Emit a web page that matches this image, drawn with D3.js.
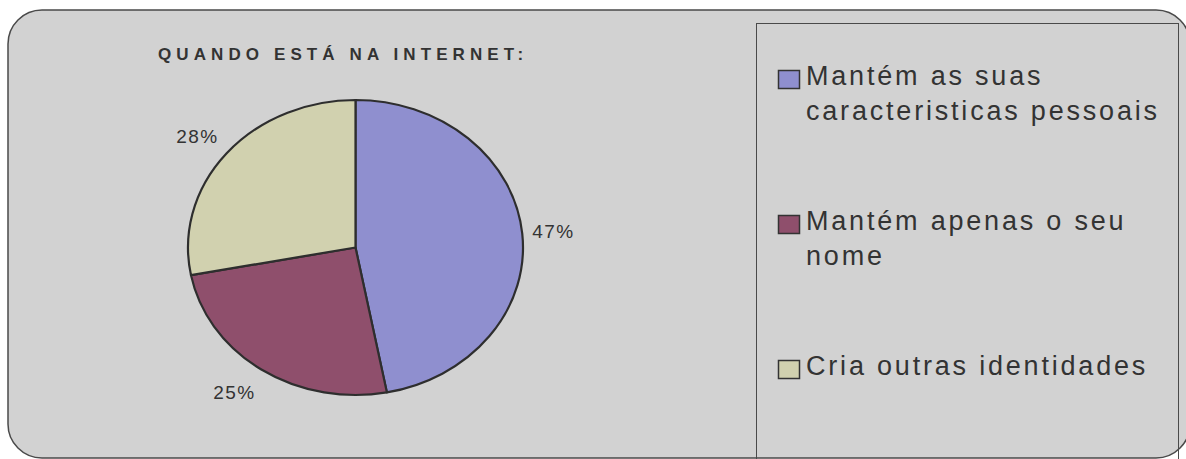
<!DOCTYPE html>
<html>
<head>
<meta charset="utf-8">
<script src="https://cdn.jsdelivr.net/npm/d3@7"></script>
<style>
  html, body { margin: 0; padding: 0; background: #ffffff; }
  svg { display: block; font-family: "Liberation Sans", Arial, sans-serif; }
</style>
</head>
<body>
<svg id="chart" width="1186" height="459"></svg>
<script>
// Respostas: identidade usada na internet
const title = "QUANDO ESTÁ NA INTERNET:";
const categories = [
  "Mantém as suas caracteristicas pessoais",
  "Mantém apenas o seu nome",
  "Cria outras identidades"
];
const legendLines = [
  ["Mantém as suas", "caracteristicas pessoais"],
  ["Mantém apenas o seu", "nome"],
  ["Cria outras identidades"]
];
const values = [47, 25, 28];
const colors = ["#8f8fcf", "#8f4f6c", "#d1d1af"];

const svg = d3.select("#chart");

// outer rounded frame (its right edge runs just past the page)
svg.append("rect")
  .attr("x", 8).attr("y", 10)
  .attr("width", 1182).attr("height", 448)
  .attr("rx", 34).attr("ry", 34)
  .attr("fill", "#d2d2d2")
  .attr("stroke", "#4a4a4a")
  .attr("stroke-width", 1.5);

// title
svg.append("text")
  .attr("x", 158).attr("y", 59.5)
  .attr("fill", "#333333")
  .attr("font-size", 17)
  .attr("font-weight", "bold")
  .attr("letter-spacing", 5.1)
  .text(title);

// pie (elliptical)
const cx = 355.5, cy = 247.5, rx = 167.5, ry = 147.5;
const color = d3.scaleOrdinal().domain(categories).range(colors);
const pie = d3.pie().sort(null).value(d => d.value);
const data = categories.map((c, i) => ({ name: c, value: values[i] }));
const arcs = pie(data);
const arc = d3.arc().innerRadius(0).outerRadius(ry);

const g = svg.append("g")
  .attr("transform", `translate(${cx},${cy}) scale(${rx / ry},1)`);

g.selectAll("path")
  .data(arcs)
  .join("path")
  .attr("d", arc)
  .attr("fill", d => color(d.data.name))
  .attr("stroke", "#2e2e2e")
  .attr("stroke-width", 2.2)
  .attr("stroke-linejoin", "round")
  .attr("vector-effect", "non-scaling-stroke");

// percentage labels just outside the ellipse
const pct = d3.format(".0%");
const total = d3.sum(values);
const mid = d => (d.startAngle + d.endAngle) / 2;
svg.selectAll("text.pct")
  .data(arcs)
  .join("text")
  .attr("class", "pct")
  .attr("x", d => cx + (rx + 10) * Math.sin(mid(d)))
  .attr("y", d => cy - (ry + 27) * Math.cos(mid(d)))
  .attr("dy", "0.36em")
  .attr("text-anchor", d => Math.sin(mid(d)) >= 0 ? "start" : "end")
  .attr("fill", "#333333")
  .attr("font-size", 19)
  .attr("letter-spacing", 1.5)
  .text(d => pct(d.data.value / total));

// legend box
svg.append("rect")
  .attr("x", 756.5).attr("y", 23.5)
  .attr("width", 422).attr("height", 460)
  .attr("fill", "none")
  .attr("stroke", "#4a4a4a")
  .attr("stroke-width", 1);

const legend = svg.selectAll("g.item")
  .data(categories)
  .join("g")
  .attr("class", "item")
  .attr("transform", (d, i) => `translate(0,${85 + i * 145})`);

legend.append("rect")
  .attr("x", 778.5).attr("y", -14.5)
  .attr("width", 21).attr("height", 18)
  .attr("fill", d => color(d))
  .attr("stroke", "#333333")
  .attr("stroke-width", 1.5);

legend.append("text")
  .attr("fill", "#333333")
  .attr("font-size", 27)
  .attr("letter-spacing", 2.8)
  .selectAll("tspan")
  .data((d, i) => legendLines[i])
  .join("tspan")
  .attr("x", 806)
  .attr("y", (d, j) => j * 34.5)
  .text(d => d);
</script>
</body>
</html>
